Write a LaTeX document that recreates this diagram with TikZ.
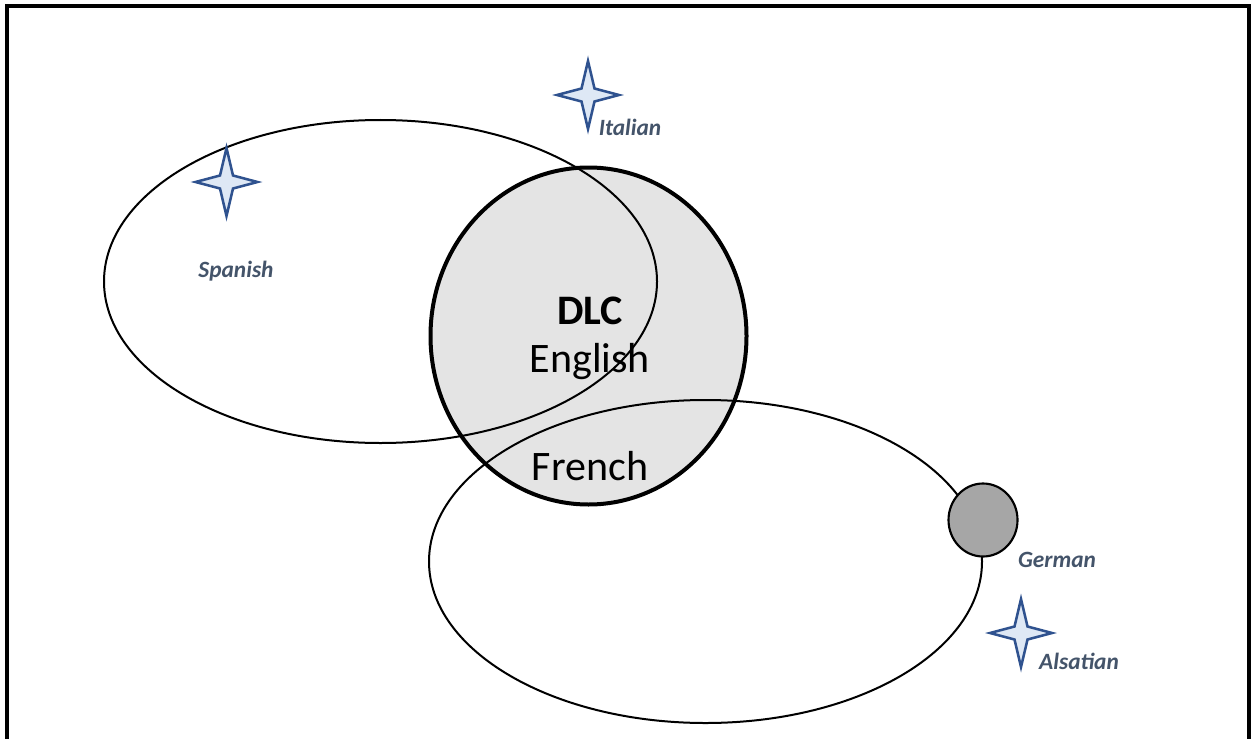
\documentclass[tikz,border=0pt]{standalone}
\usepackage{fontspec}
\usetikzlibrary{shapes.geometric}
\setmainfont{Carlito}
\definecolor{starline}{HTML}{2F528F}
\definecolor{starfill}{HTML}{DEE8F5}
\definecolor{lbl}{HTML}{44546A}
\definecolor{dlcfill}{HTML}{E4E4E4}
\definecolor{gerfill}{HTML}{A6A6A6}
\tikzset{
  ring/.style={draw=black, line width=1.5pt},
  lang/.style={text=lbl, font=\fontsize{17.5}{20}\selectfont\bfseries\itshape, inner sep=0pt},
  big/.style={font=\fontsize{31.5}{36}\selectfont, inner sep=0pt},
  pics/spark/.style={code={
    \draw[draw=starline, fill=starfill, line width=1.9pt, line join=miter, miter limit=8]
      (0,-34) -- (6.5,-6.5) -- (31,0) -- (6.5,6.5) -- (0,34)
      -- (-6.5,6.5) -- (-31,0) -- (-6.5,-6.5) -- cycle;
  }}
}
\begin{document}
\begin{tikzpicture}[x=0.75pt, y=-0.75pt]
\useasboundingbox (0,0) rectangle (1251,738);
\fill[white] (0,0) rectangle (1251,738);
% frame
\draw[line width=2.4pt] (7,800) -- (7,6) -- (1249,6) -- (1249,800);
% DLC circle fill
\fill[dlcfill] (588.5,336) ellipse [x radius=158, y radius=168.5];
% Spanish and French ellipses
\draw[ring] (380.5,281.5) ellipse [x radius=276.5, y radius=161.5];
\draw[ring] (705.5,561.5) ellipse [x radius=276.5, y radius=161.5];
% DLC circle outline
\draw[line width=3pt] (588.5,336) ellipse [x radius=158, y radius=168.5];
% German circle
\node[draw=black, fill=gerfill, line width=1.6pt, ellipse, minimum width=51.75pt, minimum height=54.75pt, inner sep=0pt] (german) at (983,520) {};
% stars
\pic at (588,95) {spark};
\pic at (226.5,182) {spark};
\pic at (1021,633) {spark};
% texts
\node[big, font=\fontsize{31.5}{36}\selectfont\bfseries] (dlc) at (590,311) {DLC};
\node[big] (english) at (590,362) {English};
\node[big] (french) at (590,466) {French};
\node[lang] (spanish) at (236,271) {Spanish};
\node[lang] (italian) at (630,127) {Italian};
\node[lang] (germanlbl) at (1057,560) {German};
\node[lang] (alsatian) at (1079,661) {Alsatian};
\end{tikzpicture}
\end{document}
